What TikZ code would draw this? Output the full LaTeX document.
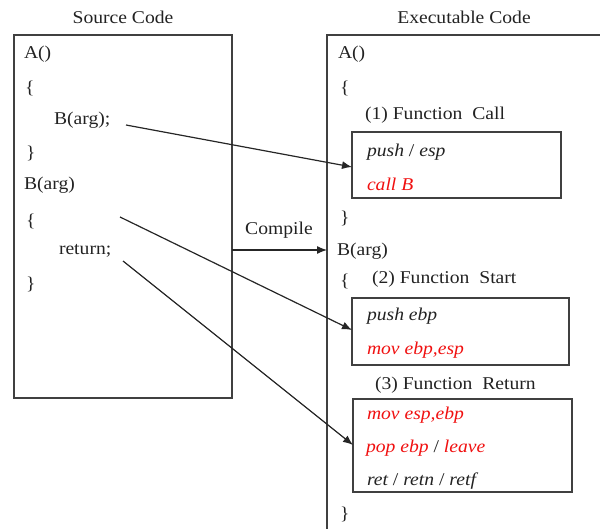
\documentclass[tikz,border=0pt]{standalone}
\usepackage{fontspec}
\setmainfont[FakeStretch=1.09]{Liberation Serif}
\usetikzlibrary{arrows.meta}
\definecolor{linegray}{HTML}{404040}
\definecolor{txt}{HTML}{222222}
\definecolor{redtxt}{HTML}{F01010}
\begin{document}
\begin{tikzpicture}[x=1pt,y=-1pt,
  every node/.style={inner sep=0pt,outer sep=0pt,font=\fontsize{18}{21}\selectfont,text=txt},
  code/.style={anchor=west},
  title/.style={anchor=center},
  frame/.style={draw=linegray,line width=1.4pt},
  instbox/.style={draw=linegray,line width=1.3pt,anchor=north west},
  conn/.style={draw=black!85,line width=1.2pt,-{Latex[length=10pt,width=8pt]}},
  inst/.style={anchor=west,font=\fontsize{18}{21}\selectfont\itshape},
  redinst/.style={inst,text=redtxt}
]
\useasboundingbox (0,0) rectangle (600,529);
% titles
\node[title] (srctitle) at (123,17) {Source\ Code};
\node[title] (exetitle) at (464,17) {Executable\ Code};
% left frame
\node[frame,anchor=north west,minimum width=218pt,minimum height=363pt] (srcbox) at (14,35) {};
% right frame (open)
\draw[frame] (600,35) -- (327,35) -- (327,535);
\coordinate (exeleft) at (327,250);
% left code
\node[code] (sa) at (24,54) {A()};
\node[code] (sob1) at (25,88) {\{};
\node[code] (sbarg) at (54,120) {B(arg);};
\node[code] (scb1) at (26,153) {\}};
\node[code] (sbdef) at (24,185) {B(arg)};
\node[code] (sob2) at (26,221) {\{};
\node[code] (sret) at (59,251) {return;};
\node[code] (scb2) at (26,284) {\}};
% arrow start points
\coordinate (c1) at (126,125);
\coordinate (c2) at (120,217);
\coordinate (c3) at (123,261);
% right code
\node[code] (ea) at (338,54) {A()};
\node[code] (eob1) at (340,88) {\{};
\node[code] (fc) at (365,115) {(1) Function\ \ Call};
\node[instbox,minimum width=209pt,minimum height=66pt] (box1) at (352,132) {};
\node[inst] (i1) at (367,152) {push {\upshape /} esp};
\node[redinst] (i2) at (367,184) {call B};
\node[code] (ecb1) at (340,218) {\}};
\node[code] (ebdef) at (337,251) {B(arg)};
\node[code] (eob2) at (340,281) {\{};
\node[code] (fs) at (372,279) {(2) Function\ \ Start};
\node[instbox,minimum width=217pt,minimum height=67pt] (box2) at (352,298) {};
\node[inst] (i3) at (367,316) {push ebp};
\node[redinst] (i4) at (367,350) {mov ebp,esp};
\node[code] (fr) at (375,385) {(3) Function\ \ Return};
\node[instbox,minimum width=219pt,minimum height=93pt] (box3) at (353,399) {};
\node[redinst] (i5) at (367,415) {mov esp,ebp};
\node[redinst] (i6) at (366,448) {pop ebp {\upshape\color{txt}/} leave};
\node[inst] (i7) at (367,481) {ret {\upshape /} retn {\upshape /} retf};
\node[code] (ecb2) at (340,514) {\}};
% compile
\node[title] (comp) at (279,230) {Compile};
\draw[conn] (srcbox.east |- exeleft) -- (exeleft);
% connectors
\draw[conn] (c1) -- (box1.west |- 0,167);
\draw[conn] (c2) -- (box2.west |- 0,330);
\draw[conn] (c3) -- (box3.west |- 0,445);
\end{tikzpicture}
\end{document}
